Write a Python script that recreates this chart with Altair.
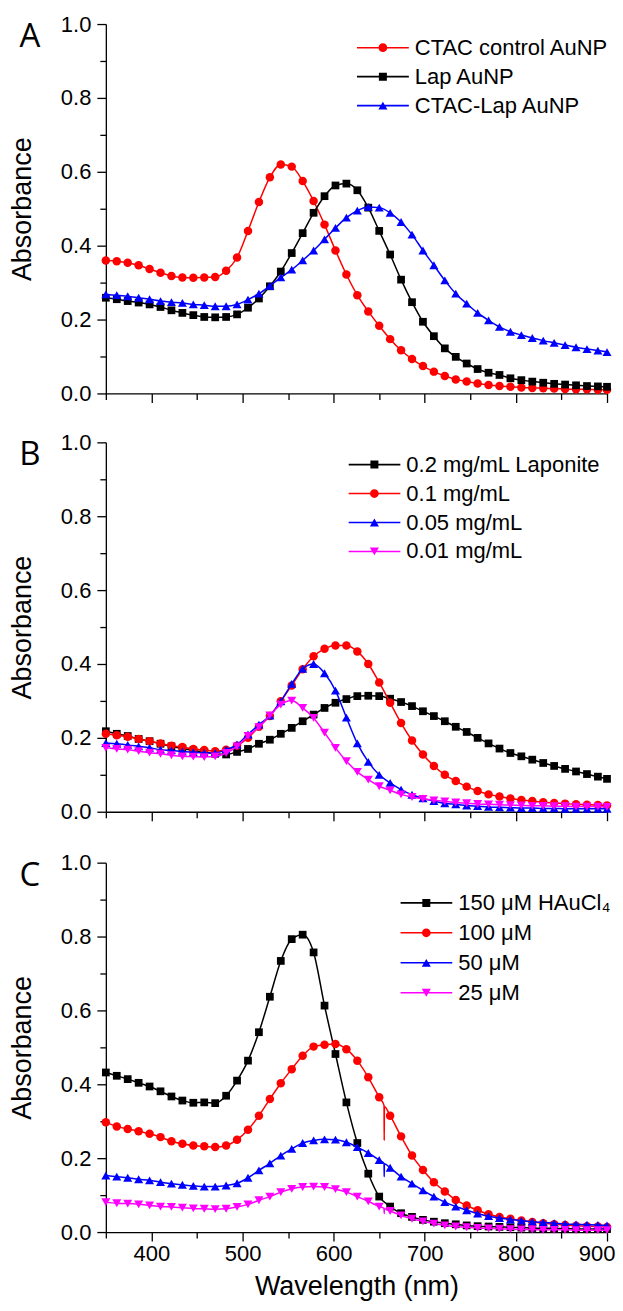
import altair as alt
import pandas as pd

# ---------------- data ----------------
WAVELENGTH = [350, 362, 374, 386, 398, 410, 422, 434, 446, 458, 470, 482, 494, 506,
              518, 530, 542, 554, 566, 578, 590, 602, 614, 626, 638, 650, 662, 674,
              686, 698, 710, 722, 734, 746, 758, 770, 782, 794, 806, 818, 830, 842,
              854, 866, 878, 890, 900]

PANEL_LETTERS = ["A", "B", "C"]

# Panel A
A_NAMES = ["CTAC control AuNP", "Lap AuNP", "CTAC-Lap AuNP"]
A_COLORS = ["#FF0000", "#000000", "#0000FF"]
A_SHAPES = ["circle", "square", "triangle-up"]
A_CTAC = [0.360, 0.358, 0.354, 0.347, 0.337, 0.327, 0.318, 0.314, 0.313, 0.314, 0.315, 0.332,
          0.368, 0.440, 0.518, 0.585, 0.620, 0.614, 0.575, 0.521, 0.457, 0.387, 0.322, 0.266,
          0.222, 0.183, 0.147, 0.117, 0.093, 0.074, 0.059, 0.047, 0.038, 0.032, 0.027, 0.023,
          0.020, 0.018, 0.016, 0.015, 0.014, 0.013, 0.012, 0.011, 0.011, 0.010, 0.010]
A_LAP = [0.259, 0.255, 0.250, 0.246, 0.241, 0.234, 0.225, 0.218, 0.212, 0.207, 0.206, 0.207,
         0.214, 0.232, 0.257, 0.290, 0.330, 0.380, 0.434, 0.489, 0.534, 0.563, 0.568, 0.550,
         0.503, 0.440, 0.376, 0.308, 0.247, 0.194, 0.155, 0.122, 0.099, 0.081, 0.066, 0.056,
         0.050, 0.041, 0.036, 0.032, 0.029, 0.026, 0.024, 0.022, 0.020, 0.019, 0.018]
A_CTACLAP = [0.268, 0.266, 0.263, 0.259, 0.255, 0.250, 0.247, 0.245, 0.241, 0.239, 0.236, 0.236,
             0.241, 0.254, 0.270, 0.291, 0.314, 0.335, 0.360, 0.387, 0.417, 0.448, 0.476, 0.495,
             0.505, 0.503, 0.489, 0.464, 0.430, 0.387, 0.347, 0.306, 0.270, 0.243, 0.218, 0.198,
             0.180, 0.167, 0.158, 0.150, 0.143, 0.137, 0.131, 0.125, 0.120, 0.116, 0.112]

# Panel B
B_NAMES = ["0.2 mg/mL Laponite", "0.1 mg/mL", "0.05 mg/mL", "0.01 mg/mL"]
B_COLORS = ["#000000", "#FF0000", "#0000FF", "#FF00FF"]
B_SHAPES = ["square", "circle", "triangle-up", "triangle-down"]
B_02 = [0.218, 0.211, 0.205, 0.197, 0.191, 0.184, 0.177, 0.171, 0.166, 0.162, 0.157, 0.155,
        0.162, 0.170, 0.184, 0.195, 0.211, 0.227, 0.245, 0.263, 0.281, 0.295, 0.305, 0.313,
        0.314, 0.313, 0.306, 0.297, 0.286, 0.272, 0.259, 0.245, 0.230, 0.216, 0.200, 0.185,
        0.171, 0.159, 0.150, 0.141, 0.132, 0.124, 0.116, 0.109, 0.102, 0.095, 0.089]
B_01 = [0.211, 0.207, 0.203, 0.197, 0.191, 0.185, 0.179, 0.175, 0.170, 0.167, 0.164, 0.168,
        0.179, 0.200, 0.230, 0.259, 0.299, 0.342, 0.386, 0.421, 0.441, 0.450, 0.450, 0.434,
        0.400, 0.350, 0.295, 0.240, 0.193, 0.155, 0.124, 0.100, 0.083, 0.068, 0.056, 0.047,
        0.041, 0.036, 0.032, 0.029, 0.026, 0.024, 0.022, 0.020, 0.019, 0.018, 0.017]
B_005 = [0.186, 0.184, 0.181, 0.177, 0.173, 0.168, 0.166, 0.163, 0.161, 0.159, 0.159, 0.168,
         0.182, 0.209, 0.236, 0.260, 0.299, 0.346, 0.387, 0.400, 0.375, 0.328, 0.255, 0.185,
         0.135, 0.100, 0.078, 0.060, 0.046, 0.036, 0.029, 0.023, 0.020, 0.017, 0.015, 0.013,
         0.012, 0.011, 0.010, 0.010, 0.009, 0.009, 0.008, 0.008, 0.008, 0.008, 0.008]
B_001 = [0.173, 0.170, 0.168, 0.164, 0.160, 0.157, 0.153, 0.150, 0.149, 0.148, 0.150, 0.159,
         0.177, 0.205, 0.229, 0.261, 0.290, 0.301, 0.281, 0.254, 0.214, 0.173, 0.137, 0.108,
         0.087, 0.069, 0.058, 0.047, 0.040, 0.035, 0.031, 0.028, 0.025, 0.023, 0.021, 0.020,
         0.019, 0.018, 0.017, 0.016, 0.016, 0.015, 0.015, 0.014, 0.014, 0.014, 0.013]

# Panel C
C_NAMES = ["150 \u03bcM HAuCl\u2084", "100 \u03bcM", "50 \u03bcM", "25 \u03bcM"]
C_COLORS = ["#000000", "#FF0000", "#0000FF", "#FF00FF"]
C_SHAPES = ["square", "circle", "triangle-up", "triangle-down"]
C_150 = [0.432, 0.423, 0.414, 0.404, 0.394, 0.381, 0.367, 0.356, 0.350, 0.351, 0.349, 0.369,
         0.410, 0.464, 0.541, 0.637, 0.734, 0.793, 0.805, 0.757, 0.613, 0.482, 0.351, 0.241,
         0.158, 0.096, 0.069, 0.051, 0.041, 0.033, 0.028, 0.024, 0.021, 0.018, 0.016, 0.015,
         0.014, 0.013, 0.012, 0.011, 0.010, 0.010, 0.009, 0.009, 0.008, 0.008, 0.008]
C_100 = [0.297, 0.286, 0.279, 0.273, 0.266, 0.257, 0.246, 0.239, 0.234, 0.232, 0.230, 0.234,
         0.250, 0.277, 0.315, 0.360, 0.403, 0.441, 0.477, 0.502, 0.507, 0.509, 0.495, 0.464,
         0.419, 0.365, 0.315, 0.259, 0.207, 0.168, 0.135, 0.110, 0.087, 0.072, 0.059, 0.048,
         0.041, 0.036, 0.031, 0.027, 0.024, 0.021, 0.019, 0.017, 0.016, 0.015, 0.014]
C_50 = [0.153, 0.150, 0.147, 0.143, 0.140, 0.135, 0.131, 0.128, 0.125, 0.123, 0.123, 0.126,
        0.132, 0.147, 0.167, 0.186, 0.207, 0.225, 0.241, 0.248, 0.251, 0.250, 0.243, 0.230,
        0.214, 0.195, 0.174, 0.150, 0.131, 0.113, 0.096, 0.081, 0.069, 0.059, 0.050, 0.043,
        0.038, 0.034, 0.031, 0.028, 0.026, 0.024, 0.022, 0.021, 0.020, 0.019, 0.018]
C_25 = [0.081, 0.078, 0.077, 0.075, 0.072, 0.069, 0.068, 0.066, 0.064, 0.063, 0.062, 0.063,
        0.068, 0.075, 0.086, 0.096, 0.108, 0.117, 0.122, 0.123, 0.122, 0.116, 0.108, 0.096,
        0.083, 0.069, 0.057, 0.045, 0.036, 0.029, 0.023, 0.018, 0.015, 0.013, 0.011, 0.010,
        0.009, 0.008, 0.007, 0.007, 0.006, 0.006, 0.006, 0.005, 0.005, 0.005, 0.005]
# glitch in the recorded traces of panel C near 655 nm (line only, no marker)
C_GLITCH_WL = [655.3, 655.5, 655.7]
C_GLITCH = {
    C_NAMES[1]: [0.343, 0.248, 0.340],
    C_NAMES[2]: [0.186, 0.150, 0.185],
    C_NAMES[3]: [0.064, 0.050, 0.063],
}

XTICKS = [350, 400, 450, 500, 550, 600, 650, 700, 750, 800, 850, 900]
YTICKS = [0.0, 0.1, 0.2, 0.3, 0.4, 0.5, 0.6, 0.7, 0.8, 0.9, 1.0]

# ---------------- styling ----------------
FONT = "Liberation Sans"
W, H = 502, 370
MARKER_SIZE = {"square": 60, "circle": 72, "triangle-up": 82, "triangle-down": 82}
# legend glyphs: a line with the marker in the middle (unit square scaled by sqrt(size)/2)
_LINE = "M-1,-0.03H-0.05V0.03H-1Z M0.05,-0.03H1V0.03H0.05Z "
LEGEND_PATH = {
    "square": _LINE + "M-0.154,-0.154H0.154V0.154H-0.154Z",
    "circle": _LINE + "M-0.17,0A0.17,0.17,0,1,1,0.17,0A0.17,0.17,0,1,1,-0.17,0Z",
    "triangle-up": _LINE + "M0,-0.15L0.175,0.15H-0.175Z",
    "triangle-down": _LINE + "M0,0.15L-0.175,-0.15H0.175Z",
}
LEGEND_SYMBOL_SIZE = 52 * 52


def panel(letter, names, colors, shapes, series, legend_x, legend_y, row_pad, is_bottom,
          glitch_wl=None, glitch=None):
    rows = []
    for name, vals in zip(names, series):
        for w, v in zip(WAVELENGTH, vals):
            rows.append({"wl": w, "absorbance": v, "series": name, "marker": True})
        if glitch and name in glitch:
            for w, v in zip(glitch_wl, glitch[name]):
                rows.append({"wl": w, "absorbance": v, "series": name, "marker": False})
    df = pd.DataFrame(rows)

    cscale = alt.Scale(domain=names, range=colors)
    x_axis = alt.Axis(
        values=XTICKS,
        labels=is_bottom,
        labelExpr="datum.value % 100 == 0 ? datum.label : ''",
        tickSize={"condition": {"test": "datum.value % 100 == 0", "value": 9}, "value": 6},
        title="Wavelength (nm)" if is_bottom else None,
        labelPadding=2,
        titlePadding=10,
        labelFlush=True,
        labelFlushOffset=8,
        labelOverlap=False,
        grid=False,
    )
    y_axis = alt.Axis(
        values=YTICKS,
        labelExpr="round(datum.value*10) % 2 == 0 ? format(datum.value, '.1f') : ''",
        tickSize={"condition": {"test": "round(datum.value*10) % 2 == 0", "value": 9}, "value": 6},
        title="Absorbance",
        labelPadding=6,
        titlePadding=24,
        labelFlush=False,
        labelOverlap=False,
        grid=False,
    )
    x = alt.X("wl:Q", scale=alt.Scale(domain=[350, 900], nice=False, zero=False), axis=x_axis)
    y = alt.Y("absorbance:Q", scale=alt.Scale(domain=[0, 1], nice=False), axis=y_axis)

    leg = alt.Legend(
        title=None,
        orient="none",
        legendX=legend_x,
        legendY=legend_y,
        labelFont=FONT,
        labelFontSize=22,
        labelColor="black",
        labelOffset=6,
        labelLimit=0,
        symbolSize=LEGEND_SYMBOL_SIZE,
        symbolStrokeWidth=0,
        symbolOpacity=1,
        symbolOffset=0,
        clipHeight=22,
        rowPadding=row_pad,
        padding=0,
    )
    color = alt.Color("series:N", scale=cscale, legend=leg)

    base = alt.Chart(df)
    layers = []
    for name, shape in zip(names, shapes):
        sub = base.transform_filter(alt.datum.series == name)
        layers.append(
            sub.mark_line(strokeWidth=1.5, interpolate="monotone").encode(x=x, y=y, color=color)
        )
        layers.append(
            sub.transform_filter(alt.datum.marker)
            .mark_point(filled=True, opacity=1, shape=shape, size=MARKER_SIZE[shape])
            .encode(x=x, y=y, color=color)
        )

    layers.append(
        base.transform_filter("false")
        .mark_point(filled=True, opacity=1, strokeWidth=0)
        .encode(
            x=x,
            y=y,
            color=color,
            shape=alt.Shape(
                "series:N",
                scale=alt.Scale(domain=names, range=[LEGEND_PATH[s] for s in shapes]),
                legend=leg,
            ),
        )
    )

    layers.append(
        alt.Chart(pd.DataFrame({"letter": [letter]}))
        .mark_text(font="Open Sans", fontSize=33, align="center", baseline="middle", color="black")
        .encode(text="letter:N", x=alt.value(-76), y=alt.value(13))
    )
    return alt.layer(*layers).properties(width=W, height=H)


pA = panel(PANEL_LETTERS[0], A_NAMES, A_COLORS, A_SHAPES, [A_CTAC, A_LAP, A_CTACLAP],
           251.5, 12.7, 7, False)
pB = panel(PANEL_LETTERS[1], B_NAMES, B_COLORS, B_SHAPES, [B_02, B_01, B_005, B_001],
           243, 11.3, 7, False)
pC = panel(PANEL_LETTERS[2], C_NAMES, C_COLORS, C_SHAPES, [C_150, C_100, C_50, C_25],
           295, 29.3, 8, True, C_GLITCH_WL, C_GLITCH)

top = alt.vconcat(pA, pB, spacing=27).resolve_scale(
    color="independent", shape="independent"
).resolve_legend(color="independent", shape="independent")

chart = (
    alt.vconcat(top, pC, spacing=29)
    .resolve_scale(color="independent", shape="independent")
    .resolve_legend(color="independent", shape="independent")
    .properties(padding={"left": 0, "top": 4, "right": 0, "bottom": 0}, background="white")
    .configure_axis(
        domainColor="black",
        domainWidth=1.3,
        tickColor="black",
        tickWidth=1.3,
        labelColor="black",
        titleColor="black",
        labelFont=FONT,
        titleFont=FONT,
        labelFontSize=22,
        titleFontSize=27,
        titleFontWeight="normal",
        grid=False,
    )
    .configure_legend(labelFont=FONT, labelFontSize=22, labelLimit=0)
    .configure_view(stroke=None)
)

chart.save("out.html", embed_options={"renderer": "svg", "actions": False})
